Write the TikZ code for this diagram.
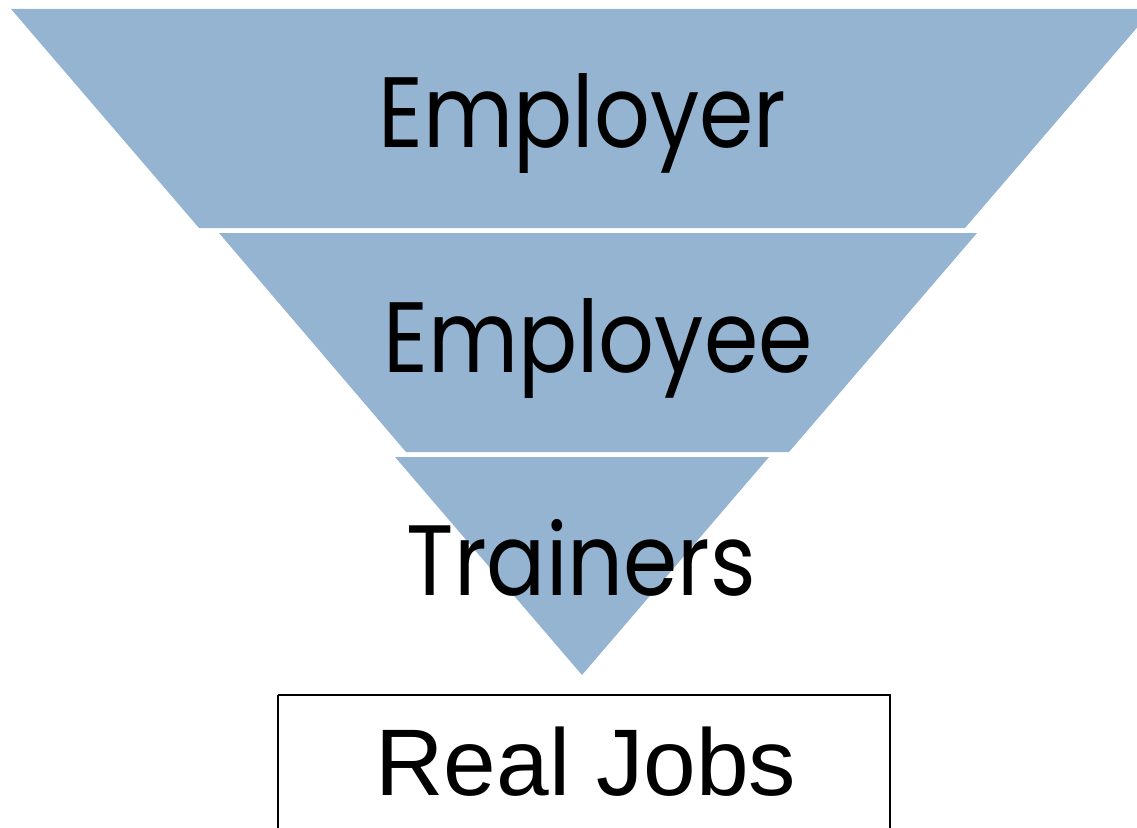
\documentclass[tikz,border=0pt]{standalone}
\usepackage{fontspec}
\setmainfont{Liberation Sans}
\newfontfamily\geofont{Poppins}
\definecolor{funnelblue}{HTML}{94B4D2}
\newcommand{\tiertext}[1]{\scalebox{0.875}[1]{#1}}
\begin{document}
\begin{tikzpicture}[x=0.75pt,y=-0.75pt,
  layer/.style={fill=funnelblue,draw=none},
  tier/.style={inner sep=0pt,anchor=base,font=\geofont\fontsize{75}{80}\selectfont},
  jobs/.style={inner sep=0pt,anchor=base,font=\fontsize{71}{76}\selectfont}]
\useasboundingbox (0,0) rectangle (1137,827);
\clip (0,0) rectangle (1137,827);
% funnel layers
\fill[layer] (11,9) -- (1153,9) -- (965,228) -- (199,228) -- cycle;
\fill[layer] (219,233) -- (977,233) -- (789,452) -- (406,452) -- cycle;
\fill[layer] (395,457) -- (769,457) -- (582,675) -- cycle;
% labels
\node[tier] (employer) at (582.5,148) {\tiertext{Employer}};
\node[tier] (employee) at (598,372) {\tiertext{Employee}};
\node[tier] (trainers) at (581.5,595) {\tiertext{Trainers}};
% outcome box
\draw[line width=1.5pt] (278,695) -- (278,840) (278,695) -- (890,695) -- (890,840);
\node[jobs] (jobs) at (586,795) {Real Jobs};
\end{tikzpicture}
\end{document}
